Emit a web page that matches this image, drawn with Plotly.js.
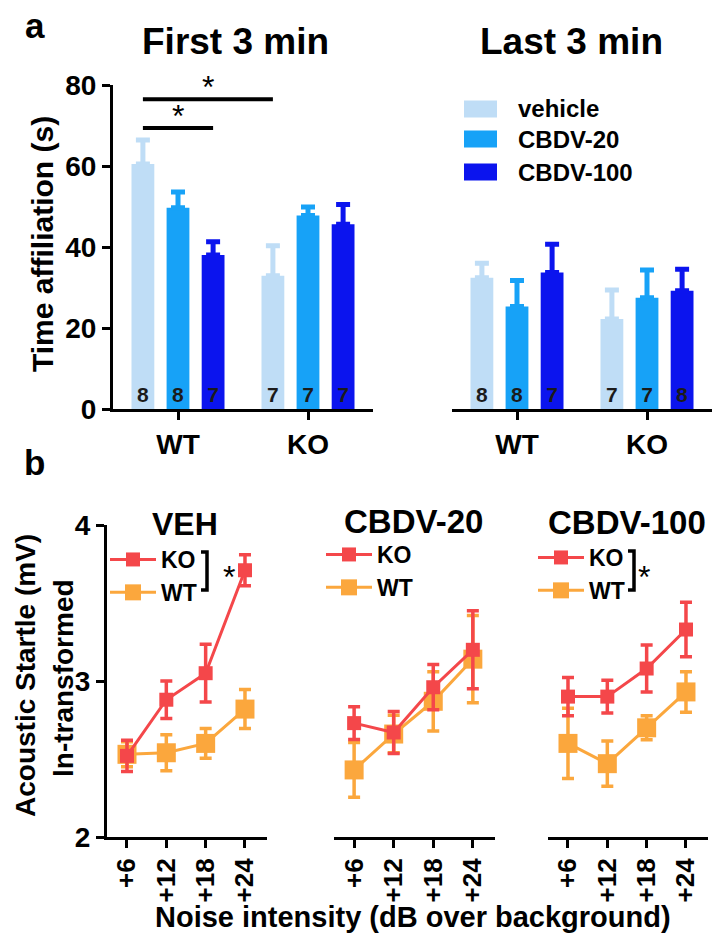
<!DOCTYPE html>
<html>
<head>
<meta charset="utf-8">
<script src="https://cdn.plot.ly/plotly-3.0.1.min.js"></script>
<style>
  html, body { margin: 0; padding: 0; background: #fff; }
  #plot { width: 728px; height: 946px; }
</style>
</head>
<body>
<div id="plot"></div>
<script>
// ---- panel a : time affiliation (s), mean + SEM, n per bar
const genotypes = ['WT', 'KO'];
const treatments = ['vehicle', 'CBDV-20', 'CBDV-100'];

const firstVehicle = [60.5, 32.9];
const firstVehicleErr = [5.9, 7.4];
const firstCbdv20 = [49.7, 47.8];
const firstCbdv20Err = [3.9, 2.1];
const firstCbdv100 = [38.0, 45.6];
const firstCbdv100Err = [3.3, 4.9];

const lastVehicle = [32.4, 22.2];
const lastVehicleErr = [3.6, 7.2];
const lastCbdv20 = [25.3, 27.5];
const lastCbdv20Err = [6.4, 6.8];
const lastCbdv100 = [33.7, 29.2];
const lastCbdv100Err = [7.0, 5.3];

const firstN = [[8, 7], [8, 7], [7, 7]];
const lastN = [[8, 7], [8, 7], [7, 8]];

// significance: [group, treatment] -> [group, treatment] at level (s)
const sigFrom = [[0, 0], [0, 0]];
const sigTo = [[0, 2], [1, 0]];
const sigLevel = [69.4, 76.5];

// ---- panel b : acoustic startle, ln-transformed
const noiseLevels = [6, 12, 18, 24];
const noiseLabels = ['+6', '+12', '+18', '+24'];

const vehKO = [2.52, 2.88, 3.05, 3.71];
const vehKOErr = [0.10, 0.12, 0.185, 0.10];
const vehWT = [2.53, 2.54, 2.60, 2.82];
const vehWTErr = [0.08, 0.115, 0.095, 0.125];

const c20KO = [2.73, 2.67, 2.96, 3.20];
const c20KOErr = [0.105, 0.135, 0.145, 0.25];
const c20WT = [2.43, 2.66, 2.87, 3.14];
const c20WTErr = [0.175, 0.12, 0.19, 0.28];

const c100KO = [2.90, 2.90, 3.08, 3.33];
const c100KOErr = [0.123, 0.105, 0.15, 0.175];
const c100WT = [2.60, 2.47, 2.70, 2.93];
const c100WTErr = [0.225, 0.145, 0.077, 0.13];

const barColors = ['#BFDDF6', '#17A2F7', '#0B14EE'];
const KO_COLOR = '#F4474A';
const WT_COLOR = '#FBA73D';
const FONT = 'Liberation Sans, Arial, Helvetica, sans-serif';

const W = 728, H = 946;
const px = x => x / W;
const py = y => 1 - y / H;

const BARGAP = 0.19;
const slot = (1 - BARGAP) / 3;

function barTrace(name, y, err, n, color, xa, ya) {
  return {
    type: 'bar', name, x: genotypes, y, xaxis: xa, yaxis: ya,
    marker: { color, line: { width: 0 } },
    error_y: { type: 'data', symmetric: false, array: err, arrayminus: err.map(() => 0),
      color, thickness: 5, width: 7 },
    text: n.map(String), textposition: 'inside', insidetextanchor: 'start',
    textangle: 0, constraintext: 'none',
    insidetextfont: { family: FONT, size: 21, color: '#1b1b1b', weight: 'bold' },
    showlegend: false, hoverinfo: 'skip'
  };
}

function lineTrace(name, y, err, color, size, xa, ya, legend, rank) {
  return {
    type: 'scatter', mode: 'lines+markers', name, x: noiseLevels, y, xaxis: xa, yaxis: ya,
    line: { color, width: 3 },
    marker: { color, symbol: 'square', size },
    error_y: { type: 'data', array: err, color, thickness: 3.5, width: 6 },
    legend, legendrank: rank, hoverinfo: 'skip'
  };
}

const data = [
  barTrace('vehicle', firstVehicle, firstVehicleErr, firstN[0], barColors[0], 'x', 'y'),
  barTrace('CBDV-20', firstCbdv20, firstCbdv20Err, firstN[1], barColors[1], 'x', 'y'),
  barTrace('CBDV-100', firstCbdv100, firstCbdv100Err, firstN[2], barColors[2], 'x', 'y'),
  barTrace('vehicle', lastVehicle, lastVehicleErr, lastN[0], barColors[0], 'x2', 'y2'),
  barTrace('CBDV-20', lastCbdv20, lastCbdv20Err, lastN[1], barColors[1], 'x2', 'y2'),
  barTrace('CBDV-100', lastCbdv100, lastCbdv100Err, lastN[2], barColors[2], 'x2', 'y2'),

  lineTrace('WT', vehWT, vehWTErr, WT_COLOR, 19, 'x3', 'y3', 'legend', 2),
  lineTrace('KO', vehKO, vehKOErr, KO_COLOR, 14, 'x3', 'y3', 'legend', 1),
  lineTrace('WT', c20WT, c20WTErr, WT_COLOR, 19, 'x4', 'y4', 'legend2', 2),
  lineTrace('KO', c20KO, c20KOErr, KO_COLOR, 14, 'x4', 'y4', 'legend2', 1),
  lineTrace('WT', c100WT, c100WTErr, WT_COLOR, 19, 'x5', 'y5', 'legend3', 2),
  lineTrace('KO', c100KO, c100KOErr, KO_COLOR, 14, 'x5', 'y5', 'legend3', 1)
];

const axisStyle = {
  showgrid: false, zeroline: false, showline: true, linecolor: '#000', linewidth: 3,
  ticks: 'outside', ticklen: 8, tickwidth: 3, tickcolor: '#000',
  tickfont: { family: FONT, size: 28, color: '#000', weight: 'bold' }, fixedrange: true
};
const hiddenY = { showgrid: false, zeroline: false, showline: false, ticks: '', showticklabels: false, fixedrange: true };

const domA = [py(409), py(85)];
const domB = [py(837), py(525)];
const noiseRange = [2.95, 27.36];

function bAxis(x0, x1, anchor) {
  return Object.assign({}, axisStyle, {
    domain: [px(x0), px(x1)], anchor, range: noiseRange,
    tickvals: noiseLevels, ticktext: noiseLabels, tickangle: -90,
    tickfont: { family: FONT, size: 26, color: '#000', weight: 'bold' }
  });
}

// significance lines + stars
const shapes = [];
const annotations = [];
sigFrom.forEach((f, i) => {
  const t = sigTo[i];
  const xa = f[0] + (f[1] - 1) * slot;
  const xb = t[0] + (t[1] - 1) * slot;
  shapes.push({ type: 'line', xref: 'x', yref: 'y', x0: xa, x1: xb, y0: sigLevel[i], y1: sigLevel[i],
    line: { color: '#000', width: 4 } });
  annotations.push({ xref: 'x', yref: 'y', x: (xa + xb) / 2, y: sigLevel[i], yanchor: 'bottom', yshift: -8,
    text: '*', showarrow: false, font: { family: FONT, size: 32, color: '#000', weight: 'normal' } });
});

// bar legend (panel a)
const legRowY = [109, 139, 172];
treatments.forEach((t, i) => {
  shapes.push({ type: 'rect', xref: 'paper', yref: 'paper', x0: px(464), x1: px(497),
    y0: py(legRowY[i] + 8.5), y1: py(legRowY[i] - 8.5), line: { width: 0 }, fillcolor: barColors[i] });
  annotations.push({ xref: 'paper', yref: 'paper', x: px(516), y: py(legRowY[i]), xanchor: 'left', yanchor: 'middle',
    text: t, showarrow: false, font: { family: FONT, size: 24, color: '#000', weight: 'bold' } });
});

// brackets for KO vs WT significance
function bracket(x, yTop, yBot, sx, sy) {
  shapes.push({ type: 'path', xref: 'paper', yref: 'paper',
    path: `M ${px(x - 6)} ${py(yTop)} L ${px(x)} ${py(yTop)} L ${px(x)} ${py(yBot)} L ${px(x - 6)} ${py(yBot)}`,
    line: { color: '#000', width: 3.5 } });
  annotations.push({ xref: 'paper', yref: 'paper', x: px(sx), y: py(sy), text: '*', showarrow: false,
    font: { family: FONT, size: 32, color: '#000', weight: 'normal' } });
}
bracket(207, 552, 590, 221, 577);
bracket(634, 551, 590, 652, 577);

function label(text, x, y, size, extra) {
  annotations.push(Object.assign({ xref: 'paper', yref: 'paper', x: px(x), y: py(y), text, showarrow: false,
    xanchor: 'center', yanchor: 'middle', font: { family: FONT, size, color: '#000', weight: 'bold' } }, extra || {}));
}
label('a', 35, 26, 35);
label('b', 34, 462, 35);
label('First 3 min', 235, 41, 37);
label('Last 3 min', 571, 41, 37);
label('VEH', 185, 524, 32);
label('CBDV-20', 413, 521, 33);
label('CBDV-100', 627, 522, 33);
label('Time affiliation (s)', 42, 244, 30, { textangle: -90 });
label('Acoustic Startle (mV)', 25, 676, 28, { textangle: -90 });
label('ln-transformed', 63, 678, 28, { textangle: -90 });
label('Noise intensity (dB over background)', 413, 917, 29);

const legendStyle = {
  font: { family: FONT, size: 23, color: '#000', weight: 'bold' },
  bgcolor: 'rgba(0,0,0,0)', xanchor: 'left', yanchor: 'top', tracegroupgap: 0, itemclick: false,
  itemwidth: 46
};

const layout = {
  width: W, height: H,
  margin: { l: 0, r: 0, t: 0, b: 0 },
  paper_bgcolor: '#fff', plot_bgcolor: 'rgba(0,0,0,0)',
  font: { family: FONT, color: '#000', weight: 'bold' },
  barmode: 'group', bargap: BARGAP, bargroupgap: 0.35,
  xaxis: Object.assign({}, axisStyle, { domain: [px(113), px(373)], anchor: 'y', type: 'category', range: [-0.5, 1.5] }),
  yaxis: Object.assign({}, axisStyle, { domain: domA, anchor: 'x', range: [0, 80], tickvals: [0, 20, 40, 60, 80] }),
  xaxis2: Object.assign({}, axisStyle, { domain: [px(452), px(712)], anchor: 'y2', type: 'category', range: [-0.5, 1.5] }),
  yaxis2: Object.assign({}, hiddenY, { domain: domA, anchor: 'x2', range: [0, 80] }),
  xaxis3: bAxis(107, 267, 'y3'),
  yaxis3: Object.assign({}, axisStyle, { domain: domB, anchor: 'x3', range: [2, 4], tickvals: [2, 3, 4] }),
  xaxis4: bAxis(334, 495, 'y4'),
  yaxis4: Object.assign({}, hiddenY, { domain: domB, anchor: 'x4', range: [2, 4] }),
  xaxis5: bAxis(548, 708, 'y5'),
  yaxis5: Object.assign({}, hiddenY, { domain: domB, anchor: 'x5', range: [2, 4] }),
  legend: Object.assign({}, legendStyle, { x: px(105), y: py(538) }),
  legend2: Object.assign({}, legendStyle, { x: px(321), y: py(533) }),
  legend3: Object.assign({}, legendStyle, { x: px(533), y: py(536) }),
  shapes, annotations
};

Plotly.newPlot('plot', data, layout, { staticPlot: true });
</script>
</body>
</html>
